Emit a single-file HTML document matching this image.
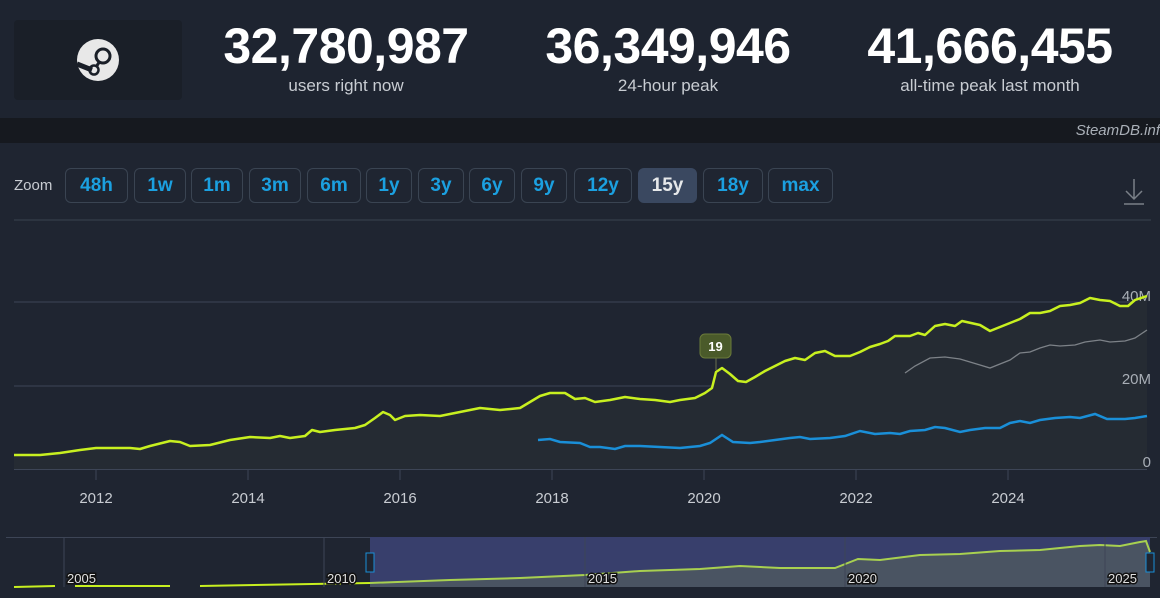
<!DOCTYPE html>
<html><head><meta charset="utf-8"><style>
*{margin:0;padding:0;box-sizing:border-box}
body{width:1160px;height:598px;background:#1f2531;font-family:"Liberation Sans",sans-serif;overflow:hidden;position:relative}
.hdr{position:absolute;left:0;top:0;width:1160px;height:118px;background:#1e2430}
.logo{position:absolute;left:14px;top:20px;width:168px;height:80px;background:#1a1f28;border-radius:4px}
.stat{position:absolute;top:20px;width:340px;text-align:center;color:#fff}
.stat b{display:block;font-size:50px;line-height:52px;font-weight:bold;letter-spacing:-0.5px}
.stat span{display:block;font-size:17px;color:#c8ccd2;margin-top:4px}
.strip{position:absolute;left:0;top:118px;width:1160px;height:25px;background:#16191f}
.strip i{position:absolute;right:0;top:4px;color:#aab0b8;font-size:15px}
.zl{position:absolute;left:14px;top:177px;color:#c8ccd2;font-size:15px}
.btn{position:absolute;top:168px;height:35px;border:1px solid #3a4452;border-radius:6px;color:#1ba0e0;font-weight:bold;font-size:19px;text-align:center;line-height:33px}
.btn.a{background:#3a4860;color:#e6e8ea;border-color:#3a4860}
</style></head><body>
<div class="hdr">
<div class="logo"><svg width="168" height="80"><circle cx="84" cy="40" r="21" fill="#e8e8e8"/><circle cx="89" cy="36" r="7" fill="none" stroke="#1a1f28" stroke-width="3"/><path d="M63 44 L78 50" stroke="#1a1f28" stroke-width="5"/><circle cx="80" cy="50" r="4.5" fill="none" stroke="#1a1f28" stroke-width="2.5"/><path d="M82 47 L86 41" stroke="#1a1f28" stroke-width="3"/></svg></div>
<div class="stat" style="left:176px"><b>32,780,987</b><span>users right now</span></div>
<div class="stat" style="left:498px"><b>36,349,946</b><span>24-hour peak</span></div>
<div class="stat" style="left:820px"><b>41,666,455</b><span>all-time peak last month</span></div>
</div>
<div class="strip"><i>SteamDB.inf</i></div>
<div class="zl">Zoom</div>
<div class="btn" style="left:65px;width:63px">48h</div>
<div class="btn" style="left:134px;width:52px">1w</div>
<div class="btn" style="left:191px;width:52px">1m</div>
<div class="btn" style="left:249px;width:52px">3m</div>
<div class="btn" style="left:307px;width:54px">6m</div>
<div class="btn" style="left:366px;width:46px">1y</div>
<div class="btn" style="left:418px;width:46px">3y</div>
<div class="btn" style="left:469px;width:46px">6y</div>
<div class="btn" style="left:521px;width:46px">9y</div>
<div class="btn" style="left:574px;width:58px">12y</div>
<div class="btn a" style="left:638px;width:59px">15y</div>
<div class="btn" style="left:703px;width:60px">18y</div>
<div class="btn" style="left:768px;width:65px">max</div>
<svg style="position:absolute;left:0;top:0" width="1160" height="598">
<g stroke="#7a8088" stroke-width="1.5" fill="none"><path d="M1134 179 V199 M1126 191 L1134 199 L1142 191 M1124 204 H1144"/></g>
<line x1="14" y1="220" x2="1151" y2="220" stroke="#3a4250" stroke-width="1"/>
<g stroke="#3d4556" stroke-width="1"><line x1="14" y1="302" x2="1147" y2="302"/><line x1="14" y1="386" x2="1147" y2="386"/><line x1="14" y1="469.5" x2="1147" y2="469.5"/></g>
<g stroke="#3d4556"><line x1="96" y1="470" x2="96" y2="480"/><line x1="248" y1="470" x2="248" y2="480"/><line x1="400" y1="470" x2="400" y2="480"/><line x1="552" y1="470" x2="552" y2="480"/><line x1="704" y1="470" x2="704" y2="480"/><line x1="856" y1="470" x2="856" y2="480"/><line x1="1008" y1="470" x2="1008" y2="480"/></g>
<g fill="#c8ccd2" font-size="15" text-anchor="middle" font-family="Liberation Sans,sans-serif"><text x="96" y="503">2012</text><text x="248" y="503">2014</text><text x="400" y="503">2016</text><text x="552" y="503">2018</text><text x="704" y="503">2020</text><text x="856" y="503">2022</text><text x="1008" y="503">2024</text></g>
<path d="M14 455 L40 455 L60 453 L80 450 L96 448 L130 448 L140 449 L150 446 L170 441 L180 442 L190 446 L210 445 L230 440 L250 437 L270 438 L280 436 L290 438 L305 436 L312 430 L320 432 L335 430 L345 429 L355 428 L365 425 L375 418 L383 412 L390 415 L395 420 L405 416 L420 415 L440 416 L455 413 L470 410 L480 408 L500 410 L520 408 L530 402 L540 396 L550 393 L565 393 L575 399 L585 398 L595 402 L610 400 L625 397 L640 399 L655 400 L670 402 L680 400 L695 398 L705 393 L712 388 L716 372 L722 368 L730 374 L738 381 L746 382 L755 377 L765 371 L775 366 L785 361 L795 358 L805 360 L815 353 L825 351 L835 356 L850 356 L860 352 L870 347 L880 344 L888 341 L895 336 L910 336 L918 333 L925 335 L935 326 L945 324 L955 326 L962 321 L980 325 L990 331 L1000 327 L1010 323 L1020 319 L1030 313 L1040 313 L1050 311 L1060 306 L1070 305 L1080 303 L1090 298 L1100 300 L1110 301 L1120 306 L1128 306 L1135 300 L1147 296 L1147 469 L14 469 Z" fill="#252b33"/>
<g fill="#a8aeb6" font-size="15" text-anchor="end" font-family="Liberation Sans,sans-serif"><text x="1151" y="301">40M</text><text x="1151" y="384">20M</text><text x="1151" y="467">0</text></g>
<path d="M905 373 L915 366 L930 358 L945 357 L960 359 L970 362 L980 365 L990 368 L1000 364 L1010 360 L1020 353 L1030 352 L1040 348 L1050 345 L1060 346 L1075 345 L1085 342 L1100 340 L1110 342 L1125 341 L1135 338 L1147 330" fill="none" stroke="#7d8288" stroke-width="1.3"/>
<path d="M538 440 L550 439 L560 442 L580 443 L590 447 L600 447 L615 449 L625 446 L640 446 L660 447 L680 448 L700 446 L710 443 L722 435 L733 442 L750 443 L760 442 L775 440 L790 438 L800 437 L810 439 L830 438 L845 436 L860 431 L875 434 L890 433 L900 434 L910 431 L925 430 L935 427 L945 428 L960 432 L970 430 L985 428 L1000 428 L1010 423 L1020 421 L1030 423 L1040 420 L1055 418 L1070 417 L1080 418 L1095 414 L1107 419 L1125 419 L1135 418 L1147 416" fill="none" stroke="#1a8fd8" stroke-width="2.5"/>
<path d="M14 455 L40 455 L60 453 L80 450 L96 448 L130 448 L140 449 L150 446 L170 441 L180 442 L190 446 L210 445 L230 440 L250 437 L270 438 L280 436 L290 438 L305 436 L312 430 L320 432 L335 430 L345 429 L355 428 L365 425 L375 418 L383 412 L390 415 L395 420 L405 416 L420 415 L440 416 L455 413 L470 410 L480 408 L500 410 L520 408 L530 402 L540 396 L550 393 L565 393 L575 399 L585 398 L595 402 L610 400 L625 397 L640 399 L655 400 L670 402 L680 400 L695 398 L705 393 L712 388 L716 372 L722 368 L730 374 L738 381 L746 382 L755 377 L765 371 L775 366 L785 361 L795 358 L805 360 L815 353 L825 351 L835 356 L850 356 L860 352 L870 347 L880 344 L888 341 L895 336 L910 336 L918 333 L925 335 L935 326 L945 324 L955 326 L962 321 L980 325 L990 331 L1000 327 L1010 323 L1020 319 L1030 313 L1040 313 L1050 311 L1060 306 L1070 305 L1080 303 L1090 298 L1100 300 L1110 301 L1120 306 L1128 306 L1135 300 L1147 296" fill="none" stroke="#c8f020" stroke-width="2.5" stroke-linejoin="round"/>
<line x1="716" y1="358" x2="716" y2="370" stroke="#6a7050"/>
<rect x="700" y="334" width="31" height="24" rx="5" fill="#4a5a2a" stroke="#6a7a3a"/>
<text x="715.5" y="351" fill="#fff" font-size="13" font-weight="bold" text-anchor="middle" font-family="Liberation Sans,sans-serif">19</text>
<rect x="14" y="537" width="1143" height="50" fill="#1f2531"/>
<line x1="6" y1="537.5" x2="1157" y2="537.5" stroke="#3d4556"/>
<rect x="370" y="537" width="780" height="50" fill="#383f6c"/>
<path d="M370 583 L450 580 L520 578 L585 575 L640 571 L700 569 L740 566 L780 568 L835 568 L858 559 L880 560 L920 555 L960 554 L1000 551 L1040 550 L1080 546 L1100 545 L1120 546 L1140 542 L1146 541 L1150 552 L1150 587 L370 587 Z" fill="#4a5462"/>
<path d="M14 587 L55 586 M75 586 L170 586 M200 586 L370 583" stroke="#c8f020" stroke-width="2" fill="none"/>
<path d="M370 583 L450 580 L520 578 L585 575 L640 571 L700 569 L740 566 L780 568 L835 568 L858 559 L880 560 L920 555 L960 554 L1000 551 L1040 550 L1080 546 L1100 545 L1120 546 L1140 542 L1146 541 L1150 552" stroke="#a8d050" stroke-width="2" fill="none"/>
<g stroke="#3d4556"><line x1="64" y1="537" x2="64" y2="587"/><line x1="324" y1="537" x2="324" y2="587"/><line x1="585" y1="537" x2="585" y2="587"/><line x1="845" y1="537" x2="845" y2="587"/><line x1="1105" y1="537" x2="1105" y2="587"/></g>
<g fill="#e0e0e0" font-size="13" font-family="Liberation Sans,sans-serif" stroke="#111" stroke-width="3" paint-order="stroke"><text x="67" y="583">2005</text><text x="327" y="583">2010</text><text x="588" y="583">2015</text><text x="848" y="583">2020</text><text x="1108" y="583">2025</text></g>
<rect x="366" y="553" width="8" height="19" fill="#1f2531" stroke="#1a8fd8"/>
<rect x="1146" y="553" width="8" height="19" fill="#1f2531" stroke="#1a8fd8"/>
</svg>
</body></html>
